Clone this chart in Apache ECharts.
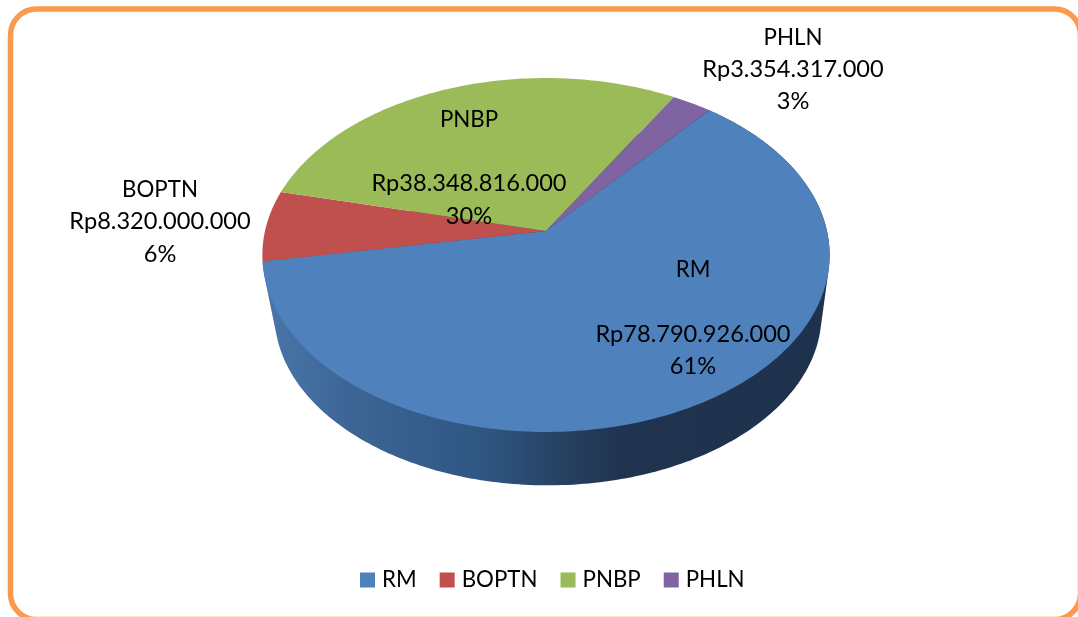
<!DOCTYPE html>
<html>
<head>
<meta charset="utf-8">
<style>html,body{margin:0;padding:0;background:#fff;overflow:hidden}#c{width:1078px;height:617px}</style>
<script src="https://cdn.jsdelivr.net/npm/echarts@6/dist/echarts.min.js"></script>
</head>
<body>
<div id="c"></div>
<script>
const categories = ['RM', 'BOPTN', 'PNBP', 'PHLN'];
const amounts = [78790926000, 8320000000, 38348816000, 3354317000];
const colors = ['#4f81bd', '#c0504d', '#9bbb59', '#8064a2'];

// Layout of the tilted pie (perspective-projected disc)
const FONT = 'Lato';
const NAME_SIZE = 22.3;
const VALUE_SIZE = 23.6;
const LINE = 32.5;
const START_DEG = 39.9;
const APEX = [546, 231];
const TOP_RIM = { a: 281, b: 173.7, dy: 0, dx: 0 };
const BOTTOM_RIM = { a: 271, b: 168, dy: 60, dx: 2 };
const K = -0.1356;
const LABEL_CENTERS = [[693, 318], [160, 221.5], [469, 167.5], [793, 69]];
const LABEL_BLANK = [true, false, true, false];

const total = amounts.reduce((s, v) => s + v, 0);
function project(deg, rim) {
  const t = deg * Math.PI / 180, u = Math.sin(t), v = -Math.cos(t), w = 1 + K * v;
  return [APEX[0] + rim.dx + rim.a * u / w, APEX[1] + rim.dy + rim.b * v / w];
}
function arc(from, to, rim) {
  const n = Math.max(2, Math.ceil((to - from) / 1)), pts = [];
  for (let i = 0; i <= n; i++) pts.push(project(from + (to - from) * i / n, rim));
  return pts;
}
function hull(points) {
  const p = points.slice().sort((a, b) => a[0] - b[0] || a[1] - b[1]);
  const cross = (o, a, b) => (a[0] - o[0]) * (b[1] - o[1]) - (a[1] - o[1]) * (b[0] - o[0]);
  const half = list => {
    const h = [];
    for (const q of list) {
      while (h.length > 1 && cross(h[h.length - 2], h[h.length - 1], q) <= 0) h.pop();
      h.push(q);
    }
    h.pop();
    return h;
  };
  return half(p).concat(half(p.slice().reverse()));
}
function money(v) { return 'Rp' + String(v).replace(/\B(?=(\d{3})+$)/g, '.'); }

const starts = [];
amounts.reduce((acc, v, i) => { starts[i] = acc; return acc + v / total * 360; }, START_DEG);

const series = categories.map((name, i) => ({
  type: 'custom',
  name,
  coordinateSystem: 'none',
  itemStyle: { color: colors[i] },
  data: [amounts[i]],
  silent: true,
  renderItem(params, api) {
    const sweep = api.value(0) / total * 360, from = starts[i], to = from + sweep;
    const children = [];
    if (i === 0) {
      children.push({
        type: 'polygon',
        shape: { points: hull(arc(from, to, TOP_RIM).concat(arc(from, to, BOTTOM_RIM))) },
        style: {
          fill: new echarts.graphic.LinearGradient(0, 0, 1, 0, [
            { offset: 0, color: '#4a76ab' },
            { offset: 0.15, color: '#3d6696' },
            { offset: 0.4, color: '#2f5581' },
            { offset: 0.54, color: '#25405f' },
            { offset: 0.64, color: '#20334f' },
            { offset: 1, color: '#1f324d' }
          ])
        }
      });
    }
    children.push({
      type: 'polygon',
      shape: { points: [APEX].concat(arc(from, to, TOP_RIM)) },
      style: { fill: colors[i] }
    });
    const pct = Math.round(api.value(0) / total * 100) + '%';
    const lines = [name].concat(LABEL_BLANK[i] ? [''] : [], [money(api.value(0)), pct]);
    lines.forEach((line, k) => {
      if (!line) return;
      children.push({
        type: 'text',
        z2: 50,
        x: LABEL_CENTERS[i][0],
        y: LABEL_CENTERS[i][1] + (k - (lines.length - 1) / 2) * LINE + (k === 0 ? 1 : 0),
        style: {
          text: line,
          font: (k === 0 ? NAME_SIZE : VALUE_SIZE) + 'px ' + FONT,
          fill: '#000',
          align: 'center',
          verticalAlign: 'middle'
        }
      });
    });
    return { type: 'group', children };
  }
}));

const chart = echarts.init(document.getElementById('c'), null, { renderer: 'canvas' });
chart.setOption({
  animation: false,
  backgroundColor: '#ffffff',
  legend: {
    data: categories,
    left: 355,
    top: 564,
    itemWidth: 15,
    itemHeight: 15,
    itemGap: 23,
    icon: 'rect',
    selectedMode: false,
    textStyle: { fontFamily: FONT, fontSize: NAME_SIZE, color: '#000', padding: [0, 0, 0, 2] }
  },
  graphic: [{
    type: 'rect',
    shape: { x: 10.5, y: 9, width: 1070, height: 610.5, r: 26 },
    style: { fill: 'none', stroke: '#fb9a4c', lineWidth: 5.5 },
    z: -1
  }],
  series
});
</script>
</body>
</html>
